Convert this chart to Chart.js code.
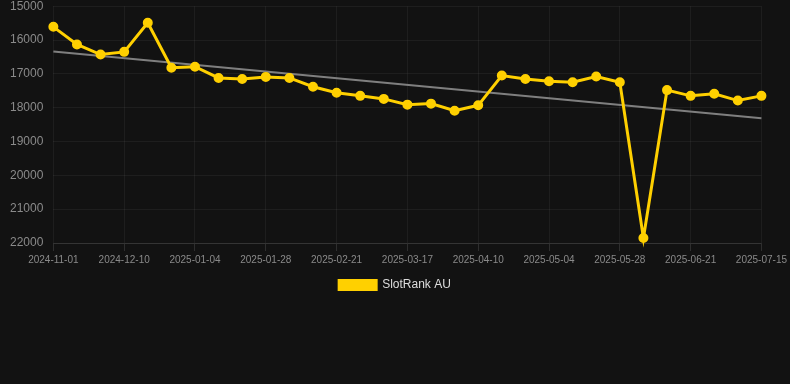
<!DOCTYPE html>
<html>
<head>
<meta charset="utf-8">
<script src="https://cdn.jsdelivr.net/npm/chart.js@4"></script>
<style>
  html, body { margin: 0; padding: 0; background: #121212; overflow: hidden; }
  #wrap { width: 790px; height: 312px; position: relative; top: -11px; }
</style>
</head>
<body>
<div id="wrap"><canvas id="rankChart"></canvas></div>
<script>
var fechas = [
  "2024-11-01", "2024-11-14", "2024-11-27", "2024-12-10", "2024-12-18", "2024-12-26",
  "2025-01-04", "2025-01-12", "2025-01-20", "2025-01-28", "2025-02-05", "2025-02-13",
  "2025-02-21", "2025-03-01", "2025-03-09", "2025-03-17", "2025-03-25", "2025-04-02",
  "2025-04-10", "2025-04-18", "2025-04-26", "2025-05-04", "2025-05-12", "2025-05-20",
  "2025-05-28", "2025-06-05", "2025-06-13", "2025-06-21", "2025-06-29", "2025-07-07",
  "2025-07-15"
];
var ranking = [
  15610, 16130, 16430, 16350, 15490, 16820, 16790, 17120, 17150, 17090, 17120,
  17380, 17560, 17650, 17740, 17910, 17880, 18090, 17930, 17050, 17150, 17220,
  17250, 17080, 17250, 21850, 17480, 17650, 17590, 17790, 17650
];
// tendencia: solo los extremos, el resto se une con spanGaps
var tendencia = [16340];
for (var i = 1; i < fechas.length - 1; i++) tendencia.push(null);
tendencia.push(18310);

var ticksY = [15000, 16000, 17000, 18000, 19000, 20000, 21000, 22000];

function crearGrafico() {
  var ctx = document.getElementById("rankChart");
  new Chart(ctx, {
    type: 'line',
    data: {
      labels: fechas,
      datasets: [{
        label: "SlotRank AU",
        data: ranking,
        borderColor: 'rgb(255, 208, 0)',
        backgroundColor: 'rgb(255, 208, 0)',
        borderWidth: 3,
        pointRadius: 4,
        pointBorderWidth: 2,
        pointHoverRadius: 4,
        tension: 0,
        clip: false
      }, {
        label: "trend",
        data: tendencia,
        borderColor: 'rgba(140, 140, 140, 0.9)',
        borderWidth: 2,
        pointRadius: 0,
        spanGaps: true,
        order: 2
      }]
    },
    options: {
      responsive: true,
      maintainAspectRatio: false,
      animation: false,
      layout: { autoPadding: false, padding: 0 },
      scales: {
        x: {
          grid: {
            color: function (c) { return c.index % 3 === 0 ? 'rgba(255,255,255,0.05)' : 'rgba(0,0,0,0)'; },
            tickColor: function (c) { return c.index % 3 === 0 ? 'rgba(255,255,255,0.12)' : 'rgba(0,0,0,0)'; }
          },
          border: { color: 'rgba(255,255,255,0.1)' },
          ticks: {
            color: '#8a8a8a',
            font: { family: 'Liberation Sans, Arial', size: 10 },
            autoSkip: false,
            maxRotation: 0,
            callback: function (val, idx) {
              return idx % 3 === 0 ? fechas[idx] : '';
            }
          }
        },
        y: {
          reverse: true,
          min: 15000,
          max: 22000,
          afterBuildTicks: function (axis) {
            axis.ticks = ticksY.map(function (v) { return { value: v }; });
          },
          grid: { color: 'rgba(255,255,255,0.05)', drawTicks: false },
          border: { display: false },
          ticks: {
            color: '#8a8a8a',
            padding: 10,
            font: { family: 'Liberation Sans, Arial', size: 12 },
            callback: function (v) { return String(v); }
          }
        }
      },
      plugins: {
        legend: {
          position: 'bottom',
          labels: {
            color: '#dddddd',
            boxWidth: 37,
            boxHeight: 9,
            font: { family: 'Liberation Sans, Arial', size: 12 },
            filter: function (item) { return item.text !== 'trend'; }
          }
        },
        tooltip: { enabled: false }
      }
    }
  });
}
crearGrafico();
</script>
</body>
</html>
